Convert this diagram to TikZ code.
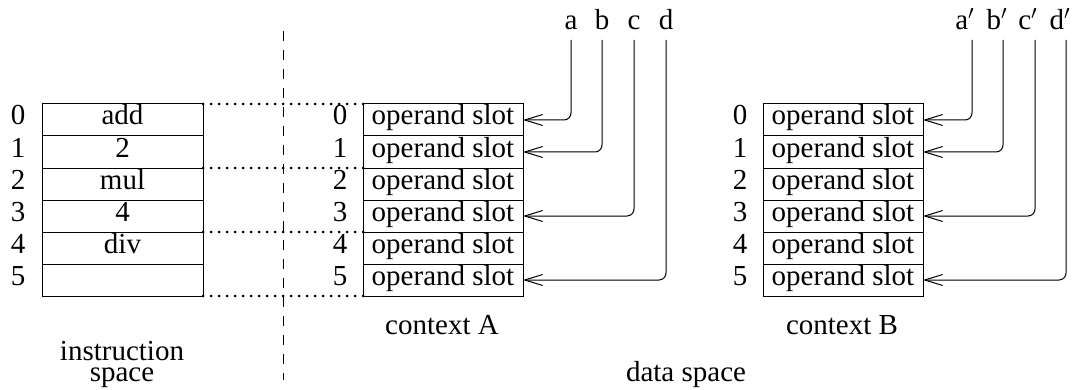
\documentclass[tikz,border=0pt]{standalone}
\usepackage{fontspec}
\setmainfont{Liberation Serif}
\usetikzlibrary{arrows.meta}
\begin{document}
\begin{tikzpicture}[x=0.5pt,y=-0.5pt,
  every node/.style={font=\fontsize{14.5pt}{16pt}\selectfont, inner sep=0pt, outer sep=0pt},
  cell/.style={draw, line width=0.5pt, minimum width=80.5pt, minimum height=16pt,
               text height=10pt, text depth=5pt},
  slot/.style={draw, line width=0.5pt, minimum width=80pt, minimum height=16pt,
               text height=10pt, text depth=5pt},
  idx/.style={anchor=base},
  lbl/.style={anchor=base},
  conn/.style={line width=0.5pt, rounded corners=3.5pt,
               -{Straight Barb[length=9pt,width=5.5pt,line width=0.5pt]}},
  dots/.style={line width=1.5pt, line cap=round, dash pattern=on 0pt off 4pt},
  divider/.style={line width=0.5pt, dash pattern=on 5pt off 4.5pt}]
\useasboundingbox (0,0) rectangle (1076,390);

% instruction space
\node[cell] (I0) at (122.5,120) {add};
\node[cell] (I1) at (122.5,152) {2};
\node[cell] (I2) at (122.5,184) {mul};
\node[cell] (I3) at (122.5,216) {4};
\node[cell] (I4) at (122.5,248) {div};
\node[cell] (I5) at (122.5,280) {};
\foreach \i in {0,...,5}{
  \node[idx] (Ix\i) at (18,125+32*\i) {\i};
}
\node[anchor=base, align=center, font=\fontsize{14.5pt}{10.5pt}\selectfont]
  (ins) at (122,381) {instruction\\space};

% divider between instruction and data space
\coordinate (dtop) at (283,31);
\coordinate (dbot) at (283,380);
\draw[divider] (dtop) -- (dbot);

% context A
\foreach \i in {0,...,5}{
  \node[slot] (A\i) at (443,120+32*\i) {operand slot};
  \node[idx] (Ax\i) at (340,125+32*\i) {\i};
}
\node[lbl] (ctxA) at (442,334) {context A};

% context B
\foreach \i in {0,...,5}{
  \node[slot] (B\i) at (843,120+32*\i) {operand slot};
  \node[idx] (Bx\i) at (740,125+32*\i) {\i};
}
\node[lbl] (ctxB) at (842,334) {context B};

\node[lbl] (data) at (686,381) {data space};

% frame boundaries shared by instructions and contexts
\draw[dots] (I0.north east) -- (A0.north west);
\draw[dots] (I2.north east) -- (A2.north west);
\draw[dots] (I4.north east) -- (A4.north west);
\draw[dots] (I5.south east) -- (A5.south west);

% operand names for context A
\node[lbl] (na) at (571,30) {a};
\node[lbl] (nb) at (602,30) {b};
\node[lbl] (nc) at (634,30) {c};
\node[lbl] (nd) at (666,30) {d};
\coordinate (ta) at (571,40);
\coordinate (tb) at (602,40);
\coordinate (tc) at (634,40);
\coordinate (td) at (666,40);
\draw[conn] (ta) |- (A0.east);
\draw[conn] (tb) |- (A1.east);
\draw[conn] (tc) |- (A3.east);
\draw[conn] (td) |- (A5.east);

% operand names for context B
\node[lbl] (nap) at (965,30) {a$'$};
\node[lbl] (nbp) at (997,30) {b$'$};
\node[lbl] (ncp) at (1028,30) {c$'$};
\node[lbl] (ndp) at (1060,30) {d$'$};
\coordinate (tap) at (972,40);
\coordinate (tbp) at (1003,40);
\coordinate (tcp) at (1035,40);
\coordinate (tdp) at (1066,40);
\draw[conn] (tap) |- (B0.east);
\draw[conn] (tbp) |- (B1.east);
\draw[conn] (tcp) |- (B3.east);
\draw[conn] (tdp) |- (B5.east);
\end{tikzpicture}
\end{document}
